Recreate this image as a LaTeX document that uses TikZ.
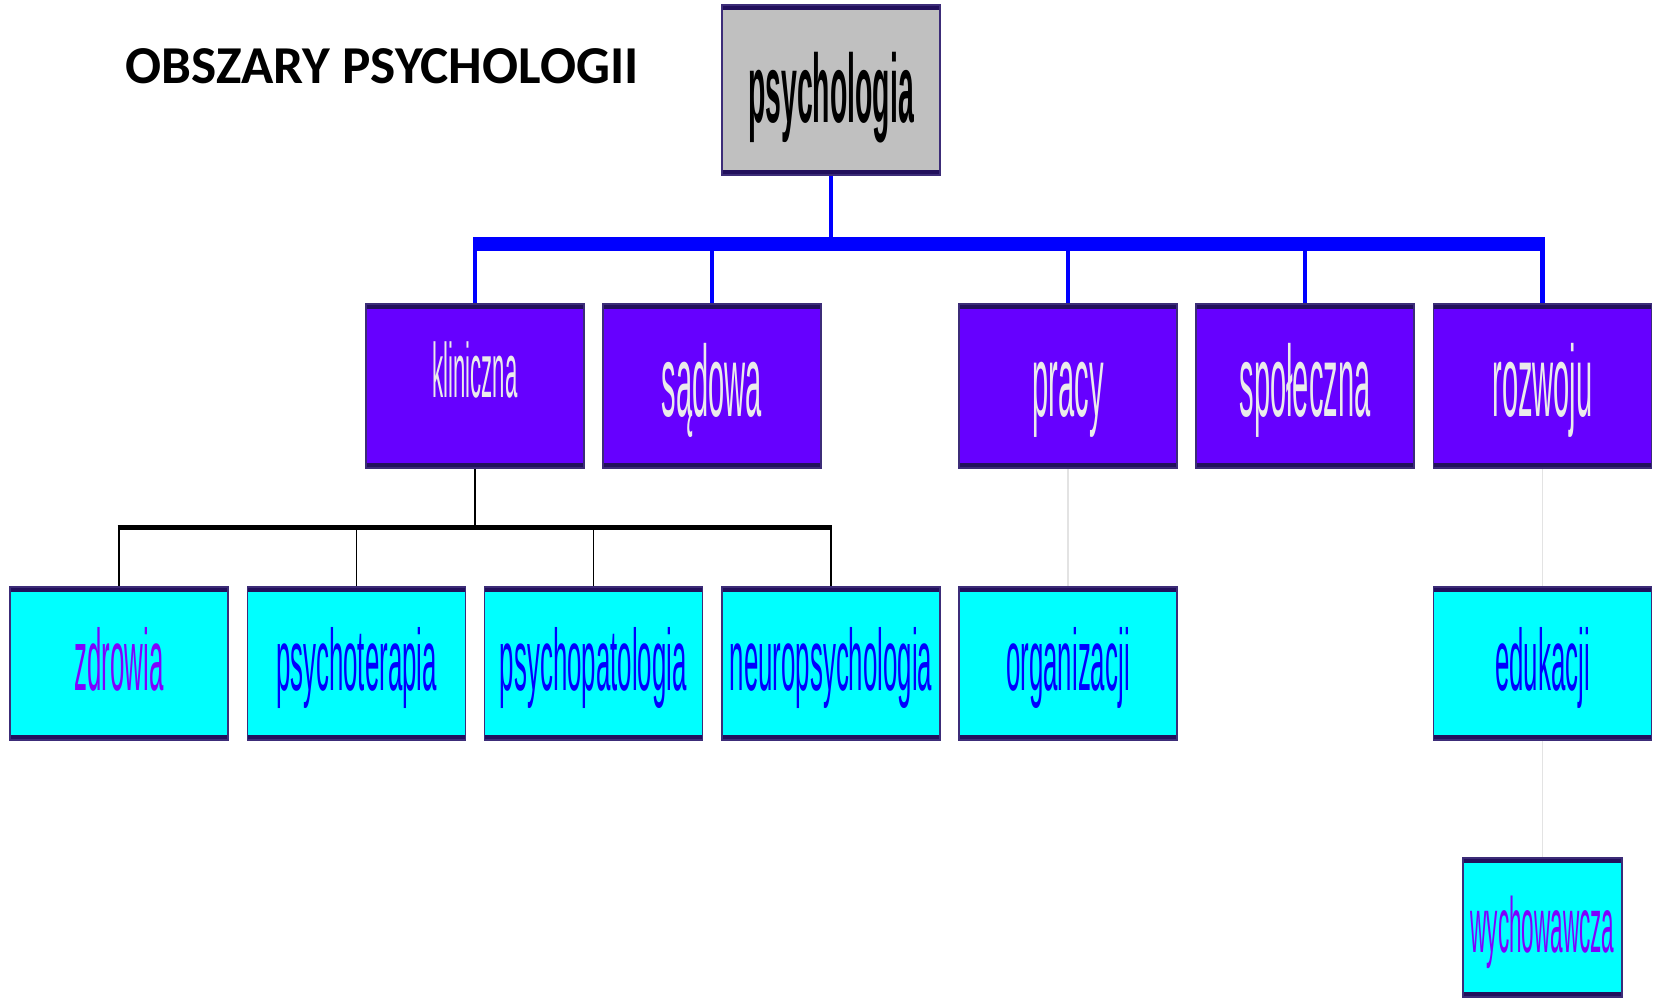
\documentclass[tikz,border=0pt]{standalone}
\usepackage{fontspec}
\usepackage{graphicx}
\setmainfont{Liberation Sans}
\newfontfamily\headfont{Carlito}
\usetikzlibrary{backgrounds}

\definecolor{rimnavy}{HTML}{22105C}
\definecolor{sidenavy}{HTML}{3C2C78}
\definecolor{areaviolet}{HTML}{6600FF}
\definecolor{subcyan}{HTML}{00FFFF}
\definecolor{rootgray}{HTML}{C0C0C0}
\definecolor{labelwhite}{HTML}{EBEBEB}
\definecolor{labelblue}{HTML}{0000FF}
\definecolor{labelpurple}{HTML}{7F00FF}
\definecolor{busblue}{HTML}{0000FF}
\definecolor{faintlink}{HTML}{E3E3E3}

% horizontally condensed label text
\newcommand{\narrow}[2]{\scalebox{#1}[1]{#2}}

\begin{document}
\begin{tikzpicture}[x=1pt,y=-1pt,
  box/.style={rectangle, inner sep=0pt, minimum width=218pt, draw=sidenavy,
    line width=1.2pt, text depth=0pt,
    path picture={\draw[rimnavy,line width=10pt]
      (path picture bounding box.north west) -- (path picture bounding box.north east)
      (path picture bounding box.south west) -- (path picture bounding box.south east);}},
  rootbox/.style={box, fill=rootgray, minimum height=170pt, text height=64pt,
    text=black, font=\bfseries\fontsize{97}{97}\selectfont},
  areabox/.style={box, fill=areaviolet, minimum height=164pt, text height=61pt,
    text=labelwhite, font=\fontsize{101}{101}\selectfont},
  subbox/.style={box, fill=subcyan, minimum height=153pt, text height=53pt,
    text=labelblue, font=\fontsize{87}{87}\selectfont},
  bluebus/.style={busblue, line width=14pt},
  bluelink/.style={busblue, line width=4.5pt},
  blackbus/.style={black, line width=5pt},
  blacklink/.style={black, line width=1.6pt},
  fadedlink/.style={faintlink, line width=1.6pt}
]
\useasboundingbox (0,0) rectangle (1656,997);

% title
\node[anchor=base west, inner sep=0pt, font=\headfont\bfseries\fontsize{53.3}{53.3}\selectfont]
  (title) at (125,83) {OBSZARY PSYCHOLOGII};

% root
\node[rootbox] (root) at (831,90) {\narrow{0.293}{psychologia}};

% main areas
\node[areabox, text height=22pt, font=\fontsize{77}{77}\selectfont]
  (klin) at (475,386) {\narrow{0.288}{kliniczna}};
\node[areabox] (sad)  at (712,386)    {\narrow{0.288}{sądowa}};
\node[areabox] (prac) at (1068,386)   {\narrow{0.288}{pracy}};
\node[areabox] (spol) at (1305,386)   {\narrow{0.288}{społeczna}};
\node[areabox] (rozw) at (1542.5,386) {\narrow{0.288}{rozwoju}};

% sub-areas
\node[subbox, text=labelpurple] (zdr) at (119,663.5) {\narrow{0.297}{zdrowia}};
\node[subbox] (pter) at (356.5,663.5) {\narrow{0.297}{psychoterapia}};
\node[subbox] (ppat) at (593.3,663.5) {\narrow{0.297}{psychopatologia}};
\node[subbox] (neur) at (831,663.5)   {\narrow{0.297}{neuropsychologia}};
\node[subbox] (org)  at (1068,663.5)  {\narrow{0.297}{organizacji}};
\node[subbox] (edu)  at (1542.5,663.5){\narrow{0.297}{edukacji}};
\node[subbox, text=labelpurple, minimum width=159pt, minimum height=139pt,
  text height=50pt, font=\fontsize{78}{78}\selectfont]
  (wych) at (1542.5,927.5) {\narrow{0.289}{wychowawcza}};

\begin{scope}[on background layer]
  % blue bus under the root
  \coordinate (busL) at (473,244);
  \coordinate (busR) at (1545,244);
  \draw[bluelink] (root.south) -- (root.south |- busL);
  \draw[bluebus] (busL) -- (busR);
  \foreach \n in {klin,sad,prac,spol,rozw}
    \draw[bluelink] (\n.north) -- (\n.north |- busL);

  % black bus under "kliniczna"
  \coordinate (kbL) at (117.5,527.5);
  \coordinate (kbR) at (832,527.5);
  \draw[black, line width=2pt] (klin.south) -- (klin.south |- kbL);
  \draw[blackbus] (kbL) -- (kbR);
  \foreach \n in {zdr,pter,ppat,neur}
    \draw[blacklink] (\n.north) -- (\n.north |- kbL);

  % faint links
  \draw[fadedlink] (prac.south) -- (org.north);
  \draw[fadedlink] (rozw.south) -- (edu.north);
  \draw[fadedlink] (edu.south) -- (wych.north);
\end{scope}
\end{tikzpicture}
\end{document}
